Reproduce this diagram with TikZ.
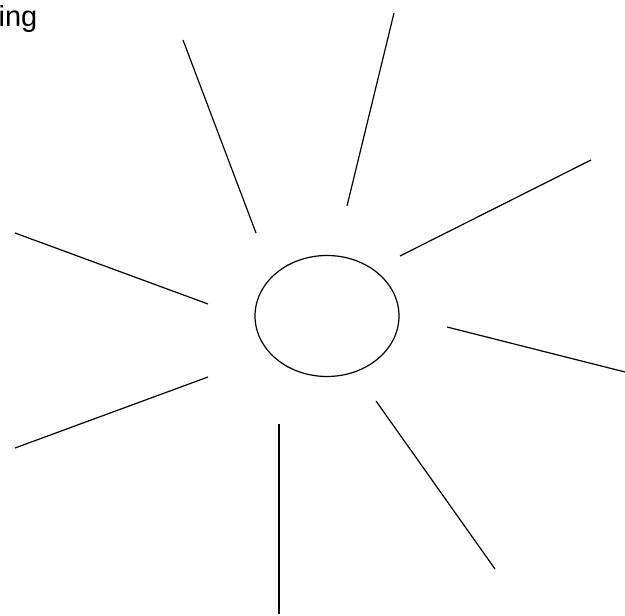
\documentclass[tikz,border=0pt]{standalone}
\usepackage{fontspec}
\setmainfont{Liberation Sans}
\usetikzlibrary{positioning, shapes.geometric}

\begin{document}
\begin{tikzpicture}[
  x=1pt, y=1pt,
  ray/.style={draw, line width=1.2pt},
  sun/.style={ellipse, draw, line width=1.2pt, minimum width=144pt, minimum height=121pt, inner sep=0pt},
  lbl/.style={font=\fontsize{29}{34}\selectfont, inner sep=0pt}
]
  \useasboundingbox (0,0) rectangle (625,616);

  % Centre
  \node[sun] (core) at (327,300) {};

  % Rays
  \foreach \name/\xa/\ya/\xb/\yb in {
    ra/183/576/256/383,
    rb/394/603/347/410,
    rc/591/456/400/360,
    rd/15/383/208/312,
    re/447/289/625/244,
    rf/15/168/208/239,
    rg/279/192/279/2,
    rh/376/215/495/47} {
    \coordinate (\name0) at (\xa,\ya);
    \coordinate (\name1) at (\xb,\yb);
    \draw[ray] (\name0) -- (\name1);
  }

  % Label
  \node[lbl, anchor=base east] (word) at (37.5,589) {ing};
\end{tikzpicture}
\end{document}
